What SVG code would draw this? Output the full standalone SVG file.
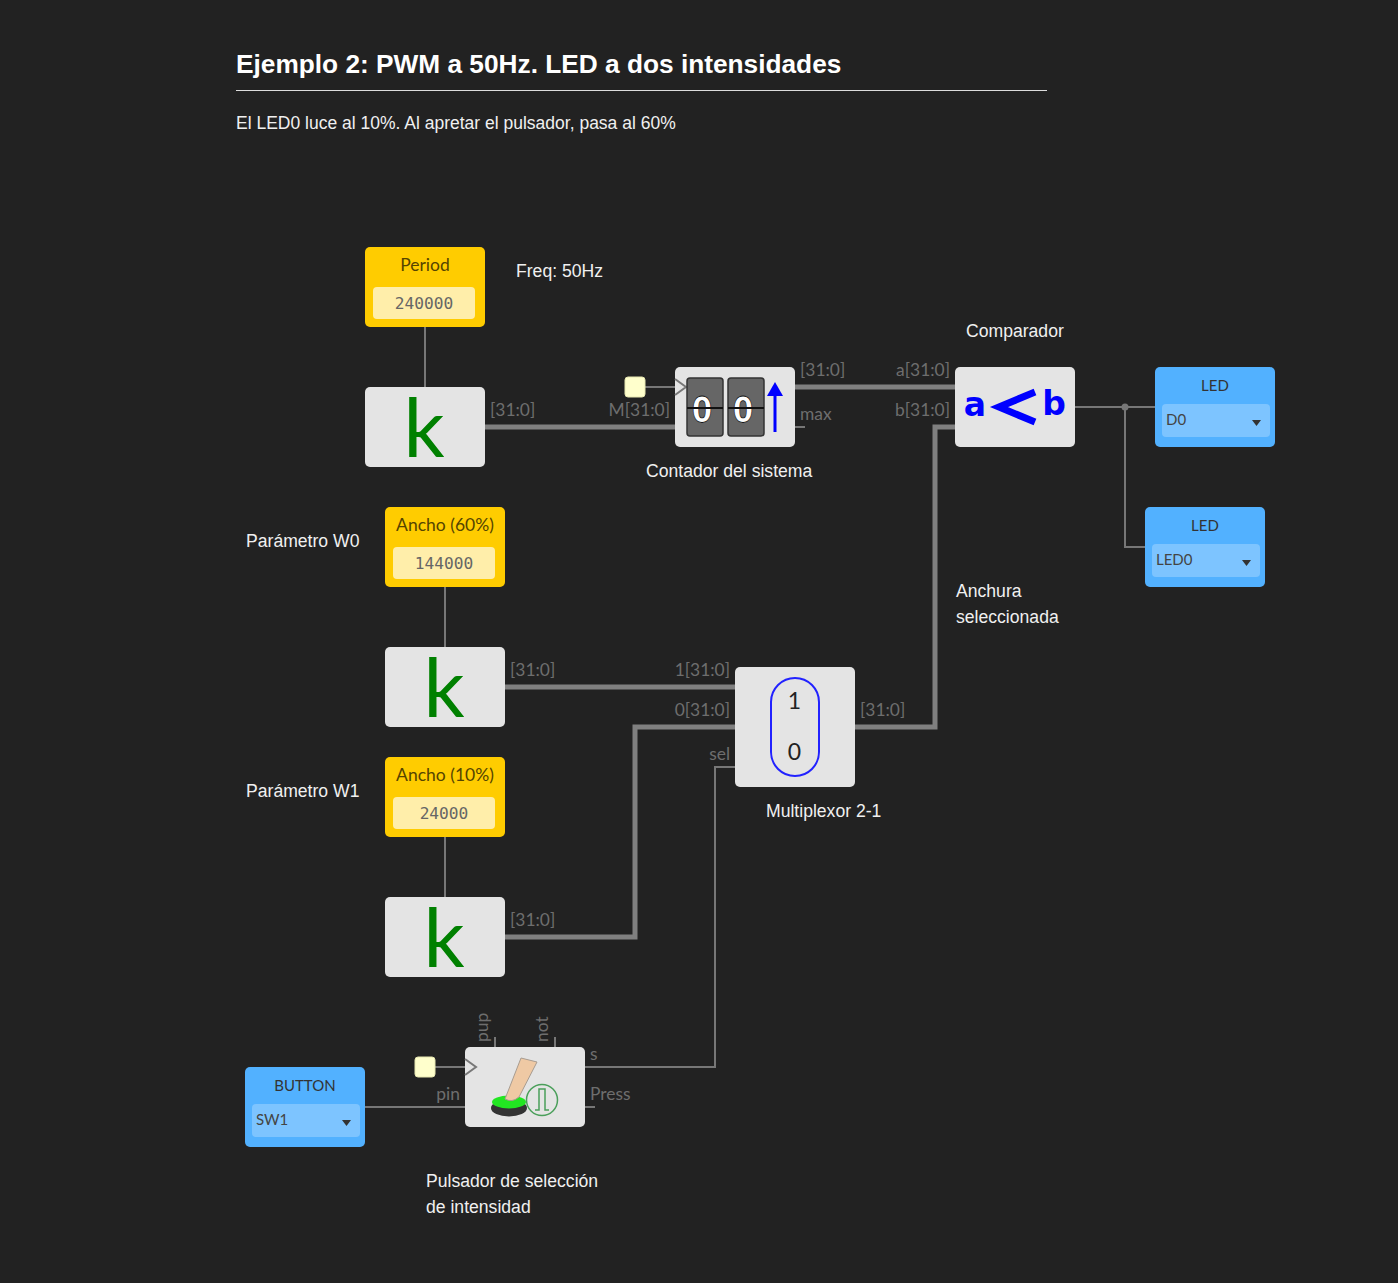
<svg xmlns="http://www.w3.org/2000/svg" width="1398" height="1283" viewBox="0 0 1398 1283">
<style>
.doc{font-family:"Liberation Sans",Arial,sans-serif;font-size:17.6px;fill:#f0f0f0}
.port{font-family:Lato,sans-serif;font-size:17.4px;fill:#6e6e6e}
.ttl{font-family:Lato,sans-serif;font-size:17.5px;text-anchor:middle}
.blk{fill:#e4e4e4}
.bus{fill:none;stroke:#808080;stroke-width:5}
.wire{fill:none;stroke:#777;stroke-width:2}
.k{font-family:Lato,sans-serif;font-size:81px;fill:#008000;text-anchor:middle}
.cst{fill:#ffcc00}
.cstin{fill:#ffeeaa}
.mono{font-family:"DejaVu Sans Mono",monospace;font-size:16.2px;fill:#666;text-anchor:middle}
.io{fill:#52b1ff}
.ioin{fill:#7dc4ff}
.sel{font-family:Lato,sans-serif;font-size:15px;fill:#444}
.caret{fill:#333}
.pin{fill:#ffffcc;stroke:#e6e6b0}
.clk{fill:none;stroke:#777;stroke-width:2}
.digit{fill:#666;stroke:#333;stroke-width:1.5}
.dg{font-family:"DejaVu Sans",sans-serif;font-size:36px;fill:#fff;stroke:#111;stroke-width:.8;text-anchor:middle;font-weight:700}
</style>
<defs>
<path id="tri" class="caret" d="M0 0h9l-4.500 6z"/>
</defs>
<rect width="1398" height="1283" fill="#222"/>
<g id="header">
<text x="236" y="73" font-family="Liberation Sans,Arial,sans-serif" font-weight="700" font-size="26.25px" fill="#fff">Ejemplo 2: PWM a 50Hz. LED a dos intensidades</text>
<rect x="236" y="90" width="811" height="1" fill="#ddd"/>
<text class="doc" x="236" y="129" style="font-size:17.5px">El LED0 luce al 10%. Al apretar el pulsador, pasa al 60%</text>
</g>
<g id="connectors">
<path class="wire" d="M425 327V387M445 587V647M445 837V897"/>
<path class="bus" d="M485 427H675M795 387H955M505 687H735M505 937H635V727H735M855 727H935V427H955"/>
<path class="wire" d="M645 387H675M795 427H805M1075 407H1155M1125 407V547H1145M585 1067H715V767H735M435 1067H465M365 1107H465M585 1107H595M495 1047V1037M555 1047V1037"/>
<circle cx="1125" cy="407" r="3.500" fill="#777"/>
</g>
<g id="period">
<rect class="cst" x="365" y="247" width="120" height="80" rx="5"/>
<text class="ttl" x="425" y="271" fill="#554400">Period</text>
<rect class="cstin" x="373" y="287" width="102" height="32" rx="4"/>
<text class="mono" x="424" y="309">240000</text>
</g>
<g id="k0"><rect class="blk" x="365" y="387" width="120" height="80" rx="5"/><text class="k" x="424" y="457">k</text></g>
<g id="counter">
<rect class="blk" x="675" y="367" width="120" height="80" rx="5"/>
<path class="clk" d="M675 379L686 387L675 395"/>
<rect class="digit" x="687" y="378" width="36" height="58" rx="3"/>
<rect class="digit" x="728" y="378" width="36" height="58" rx="3"/>
<g id="counter-digits" transform="translate(702 0) scale(.82 1)"><text class="dg" x="0" y="422">0</text></g>
<g transform="translate(743 0) scale(.82 1)"><text class="dg" x="0" y="422">0</text></g>
<path d="M687 408H723M728 408H764" stroke="#111" stroke-width="2"/>
<path d="M775 432V392" stroke="#00f" stroke-width="3"/>
<path d="M767 396L775 382L783 396Z" fill="#00f"/>
</g>
<g id="comparator">
<rect class="blk" x="955" y="367" width="120" height="80" rx="5"/>
<text x="975" y="416" font-family="DejaVu Sans,sans-serif" font-weight="700" font-size="33px" fill="#00f" text-anchor="middle">a</text>
<path d="M1035 392L999 407L1035 422" fill="none" stroke="#00f" stroke-width="7"/>
<text x="1054" y="415" font-family="DejaVu Sans,sans-serif" font-weight="700" font-size="33px" fill="#00f" text-anchor="middle">b</text>
</g>
<g id="led-d0">
<rect class="io" x="1155" y="367" width="120" height="80" rx="5"/>
<text class="ttl" x="1215" y="391" style="font-size:15px" fill="#333">LED</text>
<rect class="ioin" x="1162" y="404" width="108" height="33" rx="4"/>
<text class="sel" x="1166" y="425">D0</text>
<use href="#tri" x="1252" y="420"/>
</g>
<g id="led-led0">
<rect class="io" x="1145" y="507" width="120" height="80" rx="5"/>
<text class="ttl" x="1205" y="531" style="font-size:15px" fill="#333">LED</text>
<rect class="ioin" x="1152" y="544" width="108" height="33" rx="4"/>
<text class="sel" x="1156" y="565">LED0</text>
<use href="#tri" x="1242" y="560"/>
</g>
<g id="w0">
<rect class="cst" x="385" y="507" width="120" height="80" rx="5"/>
<text class="ttl" x="445" y="531" fill="#554400">Ancho (60%)</text>
<rect class="cstin" x="393" y="547" width="102" height="32" rx="4"/>
<text class="mono" x="444" y="569">144000</text>
</g>
<g id="k1"><rect class="blk" x="385" y="647" width="120" height="80" rx="5"/><text class="k" x="444" y="717">k</text></g>
<g id="w1">
<rect class="cst" x="385" y="757" width="120" height="80" rx="5"/>
<text class="ttl" x="445" y="781" fill="#554400">Ancho (10%)</text>
<rect class="cstin" x="393" y="797" width="102" height="32" rx="4"/>
<text class="mono" x="444" y="819">24000</text>
</g>
<g id="k2"><rect class="blk" x="385" y="897" width="120" height="80" rx="5"/><text class="k" x="444" y="967">k</text></g>
<g id="mux">
<rect class="blk" x="735" y="667" width="120" height="120" rx="5"/>
<rect x="771" y="678" width="48" height="98" rx="24" fill="none" stroke="#22f" stroke-width="2"/>
<text x="794.500" y="709" font-family="Lato,sans-serif" font-size="23px" fill="#222" text-anchor="middle">1</text>
<text x="794.500" y="760" font-family="Lato,sans-serif" font-size="23px" fill="#222" text-anchor="middle">0</text>
</g>
<g id="button-in">
<rect class="io" x="245" y="1067" width="120" height="80" rx="5"/>
<text class="ttl" x="305" y="1091" style="font-size:15px" fill="#333">BUTTON</text>
<rect class="ioin" x="252" y="1104" width="108" height="33" rx="4"/>
<text class="sel" x="256" y="1125">SW1</text>
<use href="#tri" x="342" y="1120"/>
</g>
<g id="pulsador">
<rect class="blk" x="465" y="1047" width="120" height="80" rx="5"/>
<path class="clk" d="M465 1059L476 1067L465 1075"/>
<ellipse cx="509" cy="1108" rx="18" ry="8.500" fill="#333"/>
<ellipse cx="509" cy="1102" rx="17" ry="6.500" fill="#22e622"/>
<path d="M505 1099L521 1058L537 1062L519 1097Q512 1103 505 1099Z" fill="#efc9a4" stroke="#a89c90" stroke-width="1"/>
<circle cx="542" cy="1100" r="15.500" fill="#e4e4e4" stroke="#4a9f5a" stroke-width="1.500"/>
<path d="M535 1110H539V1089H545V1110H549" fill="none" stroke="#4a9f5a" stroke-width="1.500"/>
</g>
<g id="pins">
<rect class="pin" x="625" y="377" width="20" height="20" rx="3"/>
<rect class="pin" x="415" y="1057" width="20" height="20" rx="3"/>
</g>
<g id="port-labels">
<text class="port" x="490" y="416">[31:0]</text>
<text class="port" x="670" y="416" text-anchor="end">M[31:0]</text>
<text class="port" x="800" y="376">[31:0]</text>
<text class="port" x="800" y="420">max</text>
<text class="port" x="950" y="376" text-anchor="end">a[31:0]</text>
<text class="port" x="950" y="416" text-anchor="end">b[31:0]</text>
<text class="port" x="510" y="676">[31:0]</text>
<text class="port" x="730" y="676" text-anchor="end">1[31:0]</text>
<text class="port" x="730" y="716" text-anchor="end">0[31:0]</text>
<text class="port" x="730" y="760" text-anchor="end">sel</text>
<text class="port" x="860" y="716">[31:0]</text>
<text class="port" x="510" y="926">[31:0]</text>
<text class="port" x="590" y="1060">s</text>
<text class="port" x="590" y="1100">Press</text>
<text class="port" x="460" y="1100" text-anchor="end">pin</text>
<text class="port" transform="translate(488 1042) rotate(-90)">pup</text>
<text class="port" transform="translate(548 1042) rotate(-90)">not</text>
</g>
<g id="notes">
<text class="doc" x="516" y="277">Freq: 50Hz</text>
<text class="doc" x="966" y="337">Comparador</text>
<text class="doc" x="646" y="477">Contador del sistema</text>
<text class="doc" x="246" y="547">Parámetro W0</text>
<text class="doc" x="246" y="797">Parámetro W1</text>
<text class="doc" x="956" y="597">Anchura</text>
<text class="doc" x="956" y="623">seleccionada</text>
<text class="doc" x="766" y="817">Multiplexor 2-1</text>
<text class="doc" x="426" y="1187">Pulsador de selección</text>
<text class="doc" x="426" y="1213">de intensidad</text>
</g>
</svg>
